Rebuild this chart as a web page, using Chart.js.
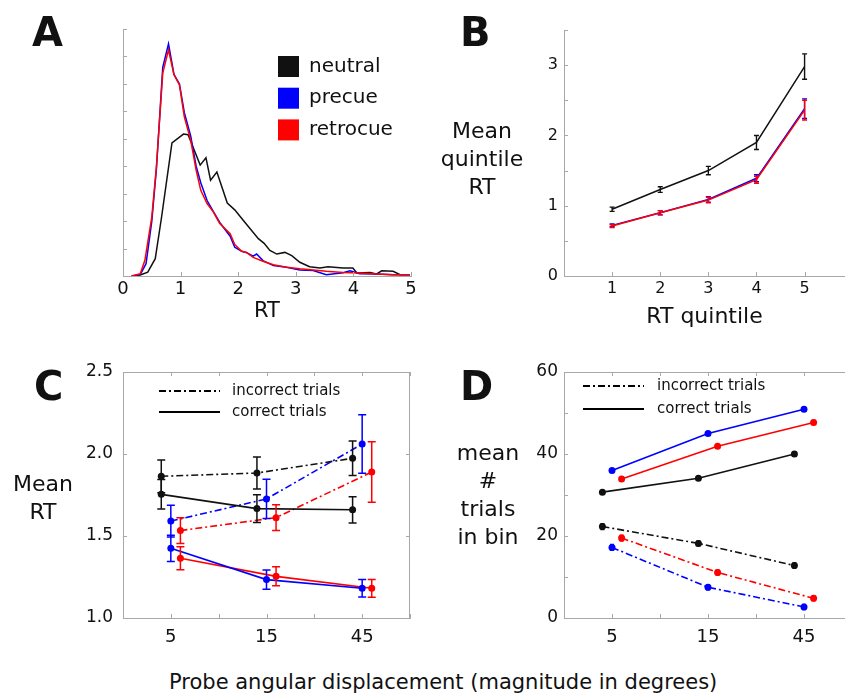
<!DOCTYPE html>
<html>
<head>
<meta charset="utf-8">
<title>RT figure</title>
<script src="https://cdn.jsdelivr.net/npm/chart.js@4.4.1/dist/chart.umd.min.js"></script>
<style>
  html, body { margin: 0; padding: 0; background: #fff; }
  body { position: relative; width: 845px; height: 693px; overflow: hidden; font-family: "DejaVu Sans", sans-serif; color: #111; }
  canvas { position: absolute; }
  .txt { position: absolute; white-space: nowrap; }
  .letter { font-weight: bold; font-size: 40px; line-height: 40px; }
  .ytitle { font-size: 22px; line-height: 28px; text-align: center; width: 120px; }
</style>
</head>
<body>
<canvas id="chartA" width="430" height="340" style="left:0;top:0;width:430px;height:340px"></canvas>
<canvas id="chartB" width="405" height="340" style="left:440px;top:0;width:405px;height:340px"></canvas>
<canvas id="chartC" width="430" height="310" style="left:0;top:350px;width:430px;height:310px"></canvas>
<canvas id="chartD" width="432" height="310" style="left:440px;top:350px;width:432px;height:310px"></canvas>

<div class="txt letter" style="left:32px;top:12px">A</div>
<div class="txt letter" style="left:460px;top:12px">B</div>
<div class="txt letter" style="left:34px;top:366px">C</div>
<div class="txt letter" style="left:460px;top:366px">D</div>
<div class="txt ytitle" style="left:-17px;top:470px">Mean<br>RT</div>
<div class="txt ytitle" style="left:422px;top:117px">Mean<br>quintile<br>RT</div>
<div class="txt ytitle" style="left:428px;top:439px">mean<br>#<br>trials<br>in bin</div>
<div class="txt" style="left:169px;top:670px;font-size:21px;line-height:24px">Probe angular displacement (magnitude in degrees)</div>

<script>
// ---- panel A: RT distributions (arbitrary density units) ----
const neutralRT = [0.15, 0.30, 0.43, 0.56, 0.67, 0.85, 1.05, 1.13, 1.34, 1.44, 1.52, 1.63, 1.81, 1.94, 2.09, 2.35, 2.45, 2.55, 2.67, 2.81, 2.93, 3.07, 3.24, 3.42, 3.56, 3.82, 3.99, 4.06, 4.29, 4.40, 4.49, 4.69, 4.81, 4.98];
const neutralDens = [0, 0.04, 0.14, 0.63, 2.15, 4.85, 5.17, 5.15, 4.04, 4.31, 3.49, 3.79, 2.66, 2.41, 2.02, 1.36, 1.19, 0.93, 0.80, 0.86, 0.74, 0.50, 0.34, 0.29, 0.34, 0.29, 0.29, 0.11, 0.13, 0.07, 0.19, 0.17, 0.05, 0.05];
const precueRT = [0.15, 0.30, 0.40, 0.50, 0.58, 0.69, 0.79, 0.885, 0.98, 1.065, 1.175, 1.27, 1.35, 1.46, 1.57, 1.68, 1.86, 1.94, 2.06, 2.14, 2.26, 2.32, 2.43, 2.61, 2.84, 3.07, 3.30, 3.53, 3.82, 3.94, 4.11, 4.40, 4.69, 4.98];
const precueDens = [0, 0.05, 0.45, 2.0, 3.9, 7.6, 8.46, 7.35, 7.0, 5.95, 5.1, 4.0, 3.4, 2.75, 2.35, 1.95, 1.45, 1.05, 0.90, 0.86, 0.72, 0.80, 0.56, 0.38, 0.32, 0.22, 0.20, 0.05, 0.12, 0.19, 0.08, 0.07, 0.05, 0.05];
const retrocueRT = [0.15, 0.30, 0.38, 0.50, 0.58, 0.69, 0.79, 0.885, 0.98, 1.065, 1.175, 1.27, 1.35, 1.46, 1.57, 1.68, 1.86, 1.94, 2.06, 2.14, 2.26, 2.43, 2.61, 2.84, 3.07, 3.30, 3.53, 3.82, 4.11, 4.40, 4.69, 4.98];
const retrocueDens = [0, 0.08, 0.57, 2.15, 3.98, 7.39, 8.24, 7.33, 6.96, 5.80, 4.95, 3.86, 3.12, 2.64, 2.33, 1.91, 1.54, 1.15, 0.90, 0.86, 0.68, 0.54, 0.41, 0.32, 0.26, 0.22, 0.17, 0.13, 0.11, 0.07, 0.05, 0.05];

// ---- panel B: mean RT per quintile ----
const quintiles = [1, 2, 3, 4, 5];
const neutralQ = [0.95, 1.23, 1.50, 1.90, 2.98];
const neutralQErr = [0.03, 0.04, 0.06, 0.10, 0.18];
const precueQ = [0.72, 0.90, 1.09, 1.39, 2.38];
const precueQErr = [0.02, 0.03, 0.04, 0.05, 0.14];
const retrocueQ = [0.71, 0.90, 1.08, 1.37, 2.36];
const retrocueQErr = [0.02, 0.03, 0.04, 0.05, 0.14];

// ---- panels C & D: by probe displacement ----
const displacements = ["5", "15", "45"];
const trialTypes = ["incorrect trials", "correct trials"];

const neutralIncRT = [1.864, 1.884, 1.974];
const neutralIncRTErr = [0.10, 0.098, 0.105];
const neutralCorRT = [1.754, 1.667, 1.66];
const neutralCorRTErr = [0.09, 0.085, 0.08];
const precueIncRT = [1.591, 1.726, 2.061];
const precueIncRTErr = [0.097, 0.12, 0.178];
const precueCorRT = [1.425, 1.234, 1.181];
const precueCorRTErr = [0.08, 0.058, 0.053];
const retroIncRT = [1.533, 1.612, 1.89];
const retroIncRTErr = [0.079, 0.079, 0.184];
const retroCorRT = [1.364, 1.254, 1.181];
const retroCorRTErr = [0.07, 0.058, 0.054];

const neutralIncN = [22.3, 18.2, 12.8];
const neutralCorN = [30.7, 34.1, 40.0];
const precueIncN = [17.2, 7.5, 2.7];
const precueCorN = [36.0, 45.0, 50.9];
const retroIncN = [19.5, 11.1, 4.8];
const retroCorN = [33.9, 41.9, 47.7];
const incNErr = [0.7, 0.6, 0.6];
const corNErr = [0.4, 0.4, 0.5];

const FONT = '"DejaVu Sans", sans-serif';
const BLUE = "#0000ff", RED = "#ff0000";
const AXIS = "#a8a8a8";
const DASHDOT = [7, 3, 2, 3];

Chart.defaults.font.family = FONT;
Chart.defaults.color = "#111";
Chart.defaults.animation = false;
Chart.defaults.plugins.legend.display = false;
Chart.defaults.plugins.tooltip.enabled = false;

const pts = (xs, ys) => ys.map((y, i) => ({ x: xs[i], y }));

// vertical error bars from a dataset's `errors` list
const errorBars = {
  id: "errorBars",
  afterDatasetsDraw(chart, args, opts) {
    const { ctx } = chart;
    const y = chart.scales.y;
    chart.data.datasets.forEach((ds, i) => {
      if (!ds.errors) return;
      const meta = chart.getDatasetMeta(i);
      ctx.save();
      ctx.strokeStyle = ds.borderColor;
      ctx.lineWidth = opts.width;
      meta.data.forEach((pt, j) => {
        const v = ds.data[j].y;
        const top = y.getPixelForValue(v + ds.errors[j]);
        const bot = y.getPixelForValue(v - ds.errors[j]);
        ctx.beginPath();
        ctx.moveTo(pt.x, top);
        ctx.lineTo(pt.x, bot);
        ctx.moveTo(pt.x - opts.cap, top);
        ctx.lineTo(pt.x + opts.cap, top);
        ctx.moveTo(pt.x - opts.cap, bot);
        ctx.lineTo(pt.x + opts.cap, bot);
        ctx.stroke();
      });
      ctx.restore();
    });
  },
};

// matlab-ish inward ticks, optional full box
const frame = {
  id: "frame",
  afterDraw(chart, args, opts) {
    const { ctx, chartArea: a, scales: { x, y } } = chart;
    const L = 4;
    ctx.save();
    ctx.strokeStyle = AXIS;
    ctx.lineWidth = 1;
    ctx.beginPath();
    if (opts.box) {
      ctx.moveTo(a.left, Math.round(a.top) + 0.5);
      ctx.lineTo(a.right, Math.round(a.top) + 0.5);
      ctx.moveTo(Math.round(a.right) - 0.5, a.top);
      ctx.lineTo(Math.round(a.right) - 0.5, a.bottom);
    }
    y.ticks.forEach((t) => {
      if (t.value <= y.min) return;
      const p = Math.round(y.getPixelForValue(t.value)) + 0.5;
      ctx.moveTo(a.left, p);
      ctx.lineTo(a.left + L, p);
      if (opts.box) {
        ctx.moveTo(a.right, p);
        ctx.lineTo(a.right - L, p);
      }
    });
    x.ticks.forEach((t) => {
      if (t.value <= x.min) return;
      const p = Math.round(x.getPixelForValue(t.value)) + 0.5;
      ctx.moveTo(p, a.bottom);
      ctx.lineTo(p, a.bottom - L);
      if (opts.box) {
        ctx.moveTo(p, a.top);
        ctx.lineTo(p, a.top + L);
      }
    });
    ctx.stroke();
    ctx.restore();
  },
};

// colour squares + labels (panel A)
const swatchLegend = {
  id: "swatchLegend",
  afterDraw(chart, args, o) {
    const { ctx, chartArea: a } = chart;
    ctx.save();
    ctx.font = `${o.size}px ${FONT}`;
    ctx.textBaseline = "middle";
    chart.data.datasets.forEach((ds, i) => {
      const top = a.top + o.y + i * o.row;
      ctx.fillStyle = ds.borderColor;
      ctx.fillRect(a.left + o.x, top, o.box, o.box);
      ctx.fillStyle = "#111";
      ctx.fillText(ds.label, a.left + o.textX, top + o.box / 2);
    });
    ctx.restore();
  },
};

// line-style legend (panels C, D)
const trialLegend = {
  id: "trialLegend",
  afterDraw(chart, args, o) {
    const { ctx, chartArea: a } = chart;
    ctx.save();
    ctx.font = `${o.size}px ${FONT}`;
    ctx.textBaseline = "middle";
    ctx.strokeStyle = "#000";
    ctx.lineWidth = 1.8;
    trialTypes.forEach((label, i) => {
      const yy = a.top + o.y + i * o.row;
      ctx.setLineDash(i === 0 ? DASHDOT : []);
      ctx.beginPath();
      ctx.moveTo(a.left + o.x, yy);
      ctx.lineTo(a.left + o.x + o.len, yy);
      ctx.stroke();
      ctx.setLineDash([]);
      ctx.fillStyle = "#111";
      ctx.fillText(label, a.left + o.textX, yy);
    });
    ctx.restore();
  },
};

const fixWidth = (w) => (scale) => { scale.width = w; };
const fixHeight = (h) => (scale) => { scale.height = h; };

// ---------------- A ----------------
const lineA = (label, xs, ys, color, order) => ({
  label, data: pts(xs, ys), borderColor: color, borderWidth: 1.5,
  pointRadius: 0, tension: 0, order,
});

new Chart(document.getElementById("chartA"), {
  type: "line",
  data: {
    datasets: [
      lineA("neutral", neutralRT, neutralDens, "#111", 2),
      lineA("precue", precueRT, precueDens, BLUE, 1),
      lineA("retrocue", retrocueRT, retrocueDens, RED, 0),
    ],
  },
  options: {
    responsive: false,
    layout: { padding: { top: 29, right: 19, left: 0, bottom: 0 } },
    scales: {
      x: {
        type: "linear", min: 0, max: 5,
        ticks: { stepSize: 1, padding: 3, font: { size: 18 } },
        grid: { display: false, drawTicks: false },
        border: { color: AXIS },
        title: { display: true, text: "RT", font: { size: 21 }, padding: { top: 0, bottom: 16 } },
        afterFit: fixHeight(64),
      },
      y: {
        min: 0, max: 9,
        ticks: { stepSize: 1, display: false },
        grid: { display: false, drawTicks: false },
        border: { color: AXIS },
        afterFit: fixWidth(123),
      },
    },
    plugins: {
      frame: { box: false },
      swatchLegend: { x: 155, y: 27, row: 31.7, box: 21, textX: 186, size: 20 },
    },
  },
  plugins: [frame, swatchLegend],
});

// ---------------- B ----------------
const lineB = (label, ys, errs, color, order) => ({
  label, data: pts(quintiles, ys), errors: errs, borderColor: color,
  borderWidth: 1.5, pointRadius: 0, tension: 0, order,
});

new Chart(document.getElementById("chartB"), {
  type: "line",
  data: {
    datasets: [
      lineB("neutral", neutralQ, neutralQErr, "#111", 2),
      lineB("precue", precueQ, precueQErr, BLUE, 1),
      lineB("retrocue", retrocueQ, retrocueQErr, RED, 0),
    ],
  },
  options: {
    responsive: false,
    layout: { padding: { top: 30, right: 0, left: 0, bottom: 0 } },
    scales: {
      x: {
        type: "linear", min: 0, max: 5.84,
        afterBuildTicks: (s) => { s.ticks = quintiles.map((v) => ({ value: v })); },
        ticks: { padding: 3, font: { size: 16 } },
        grid: { display: false, drawTicks: false },
        border: { color: AXIS },
        title: { display: true, text: "RT quintile", font: { size: 22 }, padding: { top: 0, bottom: 10 } },
        afterFit: fixHeight(64),
      },
      y: {
        min: 0, max: 3.5,
        ticks: {
          stepSize: 0.5, padding: 6, font: { size: 16 },
          callback: (v) => (Number.isInteger(v) ? v : ""),
        },
        grid: { display: false, drawTicks: false },
        border: { color: AXIS },
        afterFit: fixWidth(124),
      },
    },
    plugins: {
      frame: { box: false },
      errorBars: { cap: 2.5, width: 1.4 },
    },
  },
  plugins: [frame, errorBars],
});

// ---------------- C & D ----------------
const offsets = { neutral: -0.1, precue: 0, retrocue: 0.1 };
const atDisp = (ys, off) => ys.map((y, i) => ({ x: i + 1 + off, y }));
const condSet = (label, ys, errs, color, off, dashed) => ({
  label, data: atDisp(ys, off), errors: errs, borderColor: color,
  backgroundColor: color, borderWidth: 1.6, borderDash: dashed ? DASHDOT : [],
  pointRadius: 3.5, pointBorderWidth: 0, pointBackgroundColor: color, tension: 0,
});

const dispScaleX = {
  type: "linear", min: 0.5, max: 3.5,
  ticks: {
    stepSize: 0.5, padding: 9, font: { size: 18 },
    callback: (v) => (Number.isInteger(v) ? displacements[v - 1] : ""),
  },
  grid: { display: false, drawTicks: false },
  border: { color: AXIS },
  afterFit: fixHeight(42),
};

new Chart(document.getElementById("chartC"), {
  type: "line",
  data: {
    datasets: [
      condSet("neutral incorrect", neutralIncRT, neutralIncRTErr, "#111", offsets.neutral, true),
      condSet("neutral correct", neutralCorRT, neutralCorRTErr, "#111", offsets.neutral, false),
      condSet("precue incorrect", precueIncRT, precueIncRTErr, BLUE, offsets.precue, true),
      condSet("precue correct", precueCorRT, precueCorRTErr, BLUE, offsets.precue, false),
      condSet("retrocue incorrect", retroIncRT, retroIncRTErr, RED, offsets.retrocue, true),
      condSet("retrocue correct", retroCorRT, retroCorRTErr, RED, offsets.retrocue, false),
    ],
  },
  options: {
    responsive: false,
    layout: { padding: { top: 22, right: 20, left: 0, bottom: 0 } },
    scales: {
      x: dispScaleX,
      y: {
        min: 1, max: 2.5,
        ticks: { stepSize: 0.5, padding: 10, font: { size: 17 }, callback: (v) => v.toFixed(1) },
        grid: { display: false, drawTicks: false },
        border: { color: AXIS },
        afterFit: fixWidth(123),
      },
    },
    plugins: {
      frame: { box: true },
      errorBars: { cap: 4, width: 1.5 },
      trialLegend: { x: 36, y: 19, row: 21, len: 61, textX: 109, size: 15 },
    },
  },
  plugins: [frame, errorBars, trialLegend],
});

new Chart(document.getElementById("chartD"), {
  type: "line",
  data: {
    datasets: [
      condSet("neutral incorrect", neutralIncN, incNErr, "#111", offsets.neutral, true),
      condSet("neutral correct", neutralCorN, corNErr, "#111", offsets.neutral, false),
      condSet("precue incorrect", precueIncN, incNErr, BLUE, offsets.precue, true),
      condSet("precue correct", precueCorN, corNErr, BLUE, offsets.precue, false),
      condSet("retrocue incorrect", retroIncN, incNErr, RED, offsets.retrocue, true),
      condSet("retrocue correct", retroCorN, corNErr, RED, offsets.retrocue, false),
    ],
  },
  options: {
    responsive: false,
    layout: { padding: { top: 22, right: 20, left: 0, bottom: 0 } },
    scales: {
      x: dispScaleX,
      y: {
        min: 0, max: 60,
        ticks: { stepSize: 10, padding: 6, font: { size: 17 }, callback: (v) => (v % 20 === 0 ? v : "") },
        grid: { display: false, drawTicks: false },
        border: { color: AXIS },
        afterFit: fixWidth(124),
      },
    },
    plugins: {
      frame: { box: true },
      errorBars: { cap: 2, width: 1.5 },
      trialLegend: { x: 19, y: 14, row: 23, len: 61, textX: 93, size: 15 },
    },
  },
  plugins: [frame, errorBars, trialLegend],
});
</script>
</body>
</html>
